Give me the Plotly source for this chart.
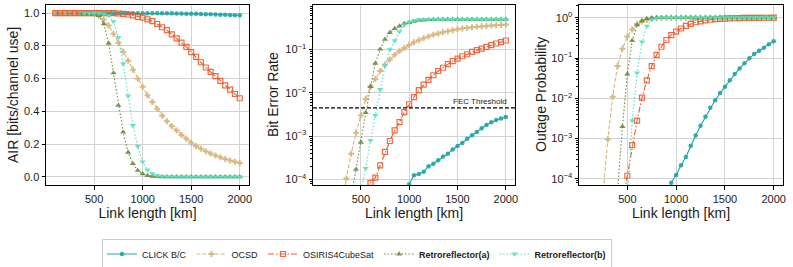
import math
import plotly.graph_objects as go

# ---------------- data ----------------
link_km = [100, 150, 200, 250, 300, 350, 400, 450, 500, 550, 600, 650, 700, 750, 800,
           850, 900, 950, 1000, 1050, 1100, 1150, 1200, 1250, 1300, 1350, 1400, 1450,
           1500, 1550, 1600, 1650, 1700, 1750, 1800, 1850, 1900, 1950, 2000]

series_names = ["CLICK B/C", "OCSD", "OSIRIS4CubeSat", "Retroreflector(a)", "Retroreflector(b)"]
N = None

# AIR [bits/channel use]
air_click = [1.0]*23 + [0.999, 0.999, 0.998, 0.998, 0.997, 0.997, 0.996, 0.995, 0.994,
                        0.993, 0.992, 0.991, 0.990, 0.989, 0.988, 0.987]
air_ocsd = [1.0]*8 + [0.996, 0.985, 0.962, 0.925, 0.875, 0.82, 0.765, 0.71, 0.655, 0.60,
                      0.551, 0.498, 0.457, 0.416, 0.375, 0.34, 0.309, 0.283, 0.256, 0.232, 0.208,
                      0.188, 0.171, 0.156, 0.142, 0.13, 0.119, 0.109, 0.10, 0.092, 0.085]
air_osiris = [1.0]*13 + [0.998, 0.996, 0.992, 0.986, 0.978, 0.973, 0.962, 0.951, 0.934, 0.914,
                         0.896, 0.87, 0.846, 0.82, 0.794, 0.762, 0.733, 0.70, 0.668, 0.641, 0.615,
                         0.586, 0.559, 0.533, 0.506, 0.48]
air_retro_a = [N]*6 + [1.0, 1.0, 0.997, 0.985, 0.935, 0.816, 0.635, 0.436, 0.273, 0.15, 0.08,
                       0.039, 0.018, 0.008, 0.003, 0.001] + [0.0]*17
air_retro_b = [N]*6 + [1.0, 1.0, 1.0, 0.999, 0.995, 0.985, 0.949, 0.852, 0.69, 0.494, 0.314,
                       0.186, 0.092, 0.043, 0.02, 0.008, 0.003, 0.001] + [0.0]*15

# Bit Error Rate
ber_click = [N]*17 + [3e-5, 7.7e-5, 1.24e-4, 1.33e-4, 1.5e-4, 2.0e-4, 2.3e-4, 2.75e-4, 3.4e-4,
                      3.9e-4, 4.9e-4, 5.9e-4, 6.9e-4, 8.7e-4, 1.05e-3, 1.25e-3, 1.52e-3, 1.81e-3,
                      2.1e-3, 2.35e-3, 2.55e-3, 2.75e-3]
ber_ocsd = [N]*4 + [2e-5, 1.05e-4, 3.9e-4, 1.2e-3, 3.0e-3, 7.1e-3, 1.4e-2, 2.1e-2, 3.2e-2, 4.5e-2,
                    5.9e-2, 7.6e-2, 9.2e-2, 0.108, 0.128, 0.148, 0.164, 0.183, 0.20, 0.219, 0.234,
                    0.252, 0.265, 0.28, 0.295, 0.306, 0.317, 0.329, 0.335, 0.347, 0.352, 0.359,
                    0.365, 0.372, 0.378]
ber_osiris = [N]*9 + [3e-5, 8.3e-5, 1.1e-4, 2.1e-4, 4.3e-4, 7.7e-4, 1.36e-3, 2.1e-3, 3.6e-3,
                      5.45e-3, 8.0e-3, 1.15e-2, 1.55e-2, 2.0e-2, 2.55e-2, 3.2e-2, 3.8e-2, 4.6e-2,
                      5.4e-2, 6.2e-2, 7.0e-2, 7.8e-2, 8.8e-2, 9.7e-2, 0.105, 0.115, 0.126, 0.138,
                      0.148, 0.162]
ber_retro_a = [N]*6 + [4e-5, 1.7e-4, 7.2e-4, 3.5e-3, 1.4e-2, 4.8e-2, 0.102, 0.173, 0.247, 0.306,
                       0.35, 0.40, 0.42, 0.45, 0.47, 0.48, 0.49, 0.495] + [0.5]*15
ber_retro_b = [N]*8 + [5e-5, 1.8e-4, 8e-4, 3e-3, 1.2e-2, 4.2e-2, 0.10, 0.16, 0.26, 0.37, 0.43,
                       0.47, 0.49, 0.495] + [0.5]*17
fec_threshold = 4.5e-3

# Outage probability
out_click = [N]*16 + [2e-5, 8.1e-5, 1.25e-4, 2.2e-4, 3.5e-4, 6.7e-4, 1.2e-3, 2.1e-3, 3.5e-3,
                      5.8e-3, 9e-3, 1.35e-2, 1.95e-2, 2.8e-2, 4e-2, 5.5e-2, 7.4e-2, 9.8e-2, 0.126,
                      0.152, 0.18, 0.22, 0.26]
out_ocsd = [N]*3 + [4e-5, 9.6e-4, 1.1e-2, 6.3e-2, 0.17, 0.34, 0.51, 0.70, 0.80, 0.88, 0.93, 0.97,
                    0.985, 0.993, 0.997] + [1.0]*21
out_osiris = [N]*7 + [2.5e-5, 1.2e-4, 6.9e-4, 2.8e-3, 1.04e-2, 2.8e-2, 6.3e-2, 0.12, 0.19, 0.28,
                      0.37, 0.45, 0.54, 0.63, 0.70, 0.77, 0.81, 0.86, 0.89, 0.92, 0.94, 0.95, 0.96,
                      0.97, 0.98, 0.985, 0.99, 0.993, 0.995, 0.997, 0.998, 0.999]
out_retro_a = [N]*6 + [5e-5, 2e-3, 4e-2, 0.27, 0.66, 0.84, 0.95, 0.99, 0.998] + [1.0]*24
out_retro_b = [N]*8 + [2.5e-5, 2.8e-3, 4.3e-2, 0.25, 0.62, 0.90, 0.98, 0.997] + [1.0]*23

x_ticks = [500, 1000, 1500, 2000]
air_ticks = [0.0, 0.2, 0.4, 0.6, 0.8, 1.0]
ber_ticks = [1e-4, 1e-3, 1e-2, 1e-1]
ber_ticktext = ["10<sup>\u22124</sup>", "10<sup>\u22123</sup>", "10<sup>\u22122</sup>", "10<sup>\u22121</sup>"]
out_ticks = [1e-4, 1e-3, 1e-2, 1e-1, 1e0]
out_ticktext = ["10<sup>\u22124</sup>", "10<sup>\u22123</sup>", "10<sup>\u22122</sup>", "10<sup>\u22121</sup>", "10<sup>0</sup>"]
y_titles = ["AIR [bits/channel use]", "Bit Error Rate", "Outage Probability"]
x_title = "Link length [km]"

# ---------------- style ----------------
colors = ["#1fa5a5", "#d6b47a", "#ee5a2e", "#6b8c3f", "#55e2c0"]
dashes = ["solid", "4px,2px", "6px,2px,1.5px,2px", "1.5px,2px", "1.5px,2px"]
symbols = ["circle", "cross", "square-open", "triangle-up", "triangle-down"]
msizes = [4.5, 5, 5, 5.5, 5.5]
labels = ["CLICK B/C", "OCSD", "OSIRIS4CubeSat", "<b>Retroreflector(a)</b>", "<b>Retroreflector(b)</b>"]

panels = [
    ("x", "y", [air_click, air_ocsd, air_osiris, air_retro_a, air_retro_b]),
    ("x2", "y2", [ber_click, ber_ocsd, ber_osiris, ber_retro_a, ber_retro_b]),
    ("x3", "y3", [out_click, out_ocsd, out_osiris, out_retro_a, out_retro_b]),
]

fig = go.Figure()
for p, (xa, ya, data) in enumerate(panels):
    for i, ys in enumerate(data):
        fig.add_trace(go.Scatter(
            x=link_km, y=ys, xaxis=xa, yaxis=ya, mode="lines+markers",
            name=labels[i], legendgroup=series_names[i], showlegend=(p == 0),
            connectgaps=False,
            line=dict(color=colors[i], width=1.1, dash=dashes[i]),
            marker=dict(symbol=symbols[i], size=msizes[i], color=colors[i], opacity=0.9,
                        line=dict(width=1.2 if symbols[i] == "square-open" else 0, color=colors[i])),
        ))

FONT = "Liberation Sans, Arial, sans-serif"
TXT = "#1a1a1a"
GRID = "#d3d3d3"

W, H = 793, 267
L, R, T, B = 46, 10, 5, 82
PW = W - L - R
PH = H - T - B

def dom(a, b):
    return [(a - L) / PW, (b - L) / PW]

common_x = dict(range=[5, 2095], tickvals=x_ticks, showline=True, mirror=True, linecolor="black",
                linewidth=1, ticks="outside", ticklen=3.5, tickcolor="black", showgrid=True,
                gridcolor=GRID, gridwidth=0.8, zeroline=False,
                tickfont=dict(size=11, family=FONT, color=TXT),
                title=dict(text=x_title, font=dict(size=14, family=FONT, color=TXT), standoff=3),
                automargin=False)
common_y = dict(showline=True, mirror=True, linecolor="black", linewidth=1, ticks="outside",
                ticklen=3.5, tickcolor="black", showgrid=True, gridcolor=GRID, gridwidth=0.8,
                zeroline=False, tickfont=dict(size=11, family=FONT, color=TXT), automargin=False)
minor_log = dict(ticks="outside", ticklen=2, tickcolor="black", dtick="D1", showgrid=False)

legend_cx = 357
legend_cy = 254

fig.update_layout(
    width=W, height=H, margin=dict(l=L, r=R, t=T, b=B, autoexpand=False),
    paper_bgcolor="white", plot_bgcolor="white",
    font=dict(family=FONT, color=TXT),
    xaxis=dict(common_x, domain=dom(46, 249), anchor="y"),
    xaxis2=dict(common_x, domain=dom(313, 515), anchor="y2"),
    xaxis3=dict(common_x, domain=dom(579, 783), anchor="y3"),
    yaxis=dict(common_y, domain=[0, 1], anchor="x", range=[-0.05, 1.05], tickvals=air_ticks,
               tickformat=".1f"),
    yaxis2=dict(common_y, domain=[0, 1], anchor="x2", type="log", range=[-4.13, 0.03],
                tickvals=ber_ticks, ticktext=ber_ticktext, minor=minor_log),
    yaxis3=dict(common_y, domain=[0, 1], anchor="x3", type="log", range=[-4.15, 0.315],
                tickvals=out_ticks, ticktext=out_ticktext, minor=minor_log),
    legend=dict(orientation="h", x=(legend_cx - L) / PW, xref="paper", xanchor="center",
                y=(H - B - legend_cy) / PH, yanchor="middle", bordercolor="#cccccc", borderwidth=1,
                bgcolor="white", font=dict(size=9, family=FONT, color=TXT), itemwidth=30,
                tracegroupgap=0),
    showlegend=True,
)

# y-axis titles placed at fixed positions (centre x in page pixels)
for title, cx in zip(y_titles, [13, 273, 541]):
    fig.add_annotation(xref="paper", yref="paper", x=(cx - L) / PW, y=0.5, text=title,
                       textangle=-90, showarrow=False, xanchor="center", yanchor="middle",
                       font=dict(size=14, family=FONT, color=TXT))

fig.add_shape(type="line", xref="x2 domain", yref="y2", x0=0, x1=1, y0=fec_threshold, y1=fec_threshold,
              line=dict(color="black", width=1.2, dash="4px,2px"))
fig.add_annotation(xref="x2 domain", yref="y2", x=0.97, y=math.log10(fec_threshold),
                   text="FEC Threshold", showarrow=False, xanchor="right", yanchor="bottom",
                   font=dict(size=8, family=FONT, color=TXT))

fig.write_html("out.html", config={"displayModeBar": False},
               post_script="document.body.style.margin='0px';")
